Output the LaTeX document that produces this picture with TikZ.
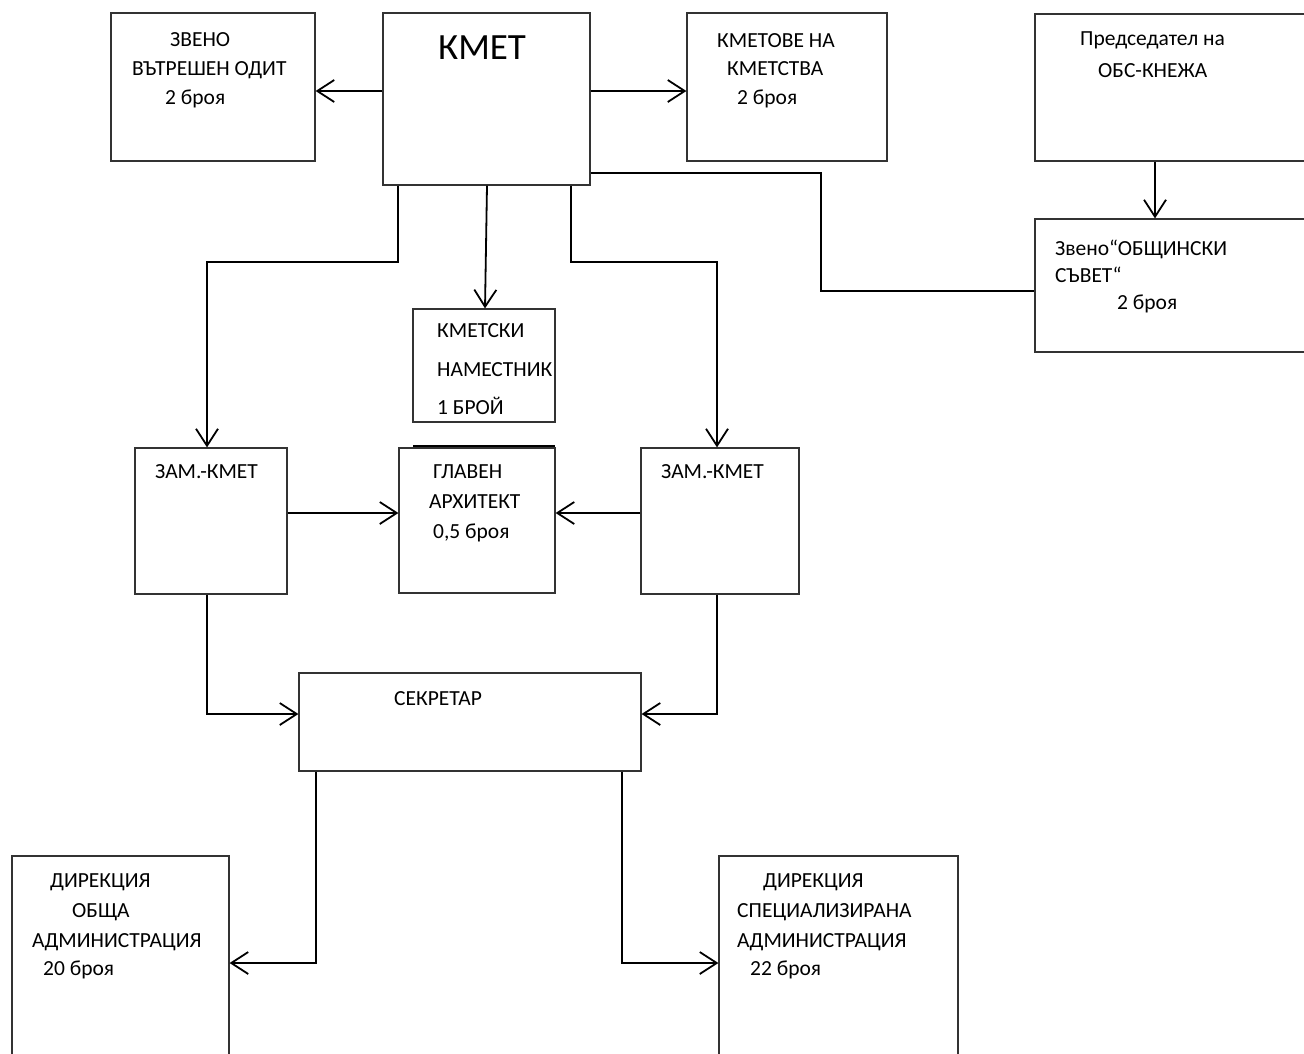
\documentclass[tikz,border=0pt]{standalone}
\usepackage{fontspec}
\setmainfont{Carlito}
\usetikzlibrary{arrows.meta}
\tikzset{
  x=1pt, y=-1pt,
  box/.style={draw=black!80, line width=1.2pt, rectangle, inner sep=0pt},
  conn/.style={draw=black, line width=1.8pt},
  arr/.style={conn, -{Straight Barb[length=17pt,width=22pt]}},
  lbl/.style={anchor=base west, inner sep=0pt, font=\fontsize{21.5}{26}\selectfont, text=black},
  big/.style={anchor=base west, inner sep=0pt, font=\fontsize{37}{42}\selectfont, text=black}
}
\begin{document}
\begin{tikzpicture}
\useasboundingbox (0,0) rectangle (1304,1053);
\clip (0,0) rectangle (1304,1053);
\fill[white] (0,0) rectangle (1304,1053);

% boxes
\node[box, minimum width=204pt, minimum height=148pt] (zveno)   at (213,87) {};
\node[box, minimum width=207pt, minimum height=172pt] (kmet)    at (486.5,99) {};
\node[box, minimum width=200pt, minimum height=148pt] (kmetove) at (787,87) {};
\node[box, minimum width=285pt, minimum height=147pt] (pred)    at (1177.5,87.5) {};
\node[box, minimum width=285pt, minimum height=133pt] (zvenoos) at (1177.5,285.5) {};
\node[box, minimum width=142pt, minimum height=113pt] (namest)  at (484,365.5) {};
\node[box, minimum width=156pt, minimum height=145pt] (glaven)  at (477,520.5) {};
\node[box, minimum width=152pt, minimum height=146pt] (zam1)    at (211,521) {};
\node[box, minimum width=158pt, minimum height=146pt] (zam2)    at (720,521) {};
\node[box, minimum width=342pt, minimum height=98pt]  (sekr)    at (470,722) {};
\node[box, minimum width=217pt, minimum height=214pt] (dir1)    at (120.5,963) {};
\node[box, minimum width=239pt, minimum height=214pt] (dir2)    at (838.5,963) {};

% thick segment above ГЛАВЕН АРХИТЕКТ
\draw[line width=2.4pt] (413,446) -- (555,446);

% texts
\node[lbl] (t1) at (170,46) {ЗВЕНО};
\node[lbl] (t2) at (132,75) {ВЪТРЕШЕН ОДИТ};
\node[lbl] (t3) at (165,104) {2 броя};
\node[big] (t4) at (438,59) {КМЕТ};
\node[lbl] (t5) at (717,47) {КМЕТОВЕ НА};
\node[lbl] (t6) at (727,75) {КМЕТСТВА};
\node[lbl] (t7) at (737,104) {2 броя};
\node[lbl] (t8) at (1080,45) {Председател на};
\node[lbl] (t9) at (1098,77) {ОБС-КНЕЖА};
\node[lbl] (t10) at (1055,255) {Звено“ОБЩИНСКИ};
\node[lbl] (t11) at (1055,282) {СЪВЕТ“};
\node[lbl] (t12) at (1117,309) {2 броя};
\node[lbl] (t13) at (437,337) {КМЕТСКИ};
\node[lbl] (t14) at (437,376) {НАМЕСТНИК};
\node[lbl] (t15) at (437,414) {1 БРОЙ};
\node[lbl] (t16) at (433,478) {ГЛАВЕН};
\node[lbl] (t17) at (429,508) {АРХИТЕКТ};
\node[lbl] (t18) at (433,538) {0,5 броя};
\node[lbl] (t19) at (155,478) {ЗАМ.-КМЕТ};
\node[lbl] (t20) at (661,478) {ЗАМ.-КМЕТ};
\node[lbl] (t21) at (394,705) {СЕКРЕТАР};
\node[lbl] (t22) at (50,887) {ДИРЕКЦИЯ};
\node[lbl] (t23) at (72,917) {ОБЩА};
\node[lbl] (t24) at (32,947) {АДМИНИСТРАЦИЯ};
\node[lbl] (t25) at (43,975) {20 броя};
\node[lbl] (t26) at (763,887) {ДИРЕКЦИЯ};
\node[lbl] (t27) at (737,917) {СПЕЦИАЛИЗИРАНА};
\node[lbl] (t28) at (737,947) {АДМИНИСТРАЦИЯ};
\node[lbl] (t29) at (750,975) {22 броя};

% helper coordinates
\coordinate (y91) at (0,91);
\coordinate (y173) at (0,173);
\coordinate (y291) at (0,291);
\coordinate (y262) at (0,262);
\coordinate (y513) at (0,513);
\coordinate (y714) at (0,714);
\coordinate (y963) at (0,963);
\coordinate (x1155) at (1155,0);
\coordinate (x398) at (398,0);
\coordinate (x207) at (207,0);
\coordinate (x487) at (487,0);
\coordinate (x485) at (485,0);
\coordinate (x571) at (571,0);
\coordinate (x717) at (717,0);
\coordinate (x821) at (821,0);
\coordinate (x316) at (316,0);
\coordinate (x622) at (622,0);

% connectors
\draw[arr] (kmet.west |- y91) -- (zveno.east |- y91);
\draw[arr] (kmet.east |- y91) -- (kmetove.west |- y91);
\draw[conn] (kmet.east |- y173) -| (x821 |- y291) -- (zvenoos.west |- y291);
\draw[arr] (pred.south -| x1155) -- (zvenoos.north -| x1155);
\draw[arr] (kmet.south -| x398) -- (x398 |- y262) -| (zam1.north -| x207);
\draw[arr] (kmet.south -| x487) -- (namest.north -| x485);
\draw[arr] (kmet.south -| x571) -- (x571 |- y262) -| (zam2.north -| x717);
\draw[arr] (zam1.east |- y513) -- (glaven.west |- y513);
\draw[arr] (zam2.west |- y513) -- (glaven.east |- y513);
\draw[arr] (zam1.south -| x207) |- (sekr.west |- y714);
\draw[arr] (zam2.south -| x717) |- (sekr.east |- y714);
\draw[arr] (sekr.south -| x316) |- (dir1.east |- y963);
\draw[arr] (sekr.south -| x622) |- (dir2.west |- y963);
\end{tikzpicture}
\end{document}
